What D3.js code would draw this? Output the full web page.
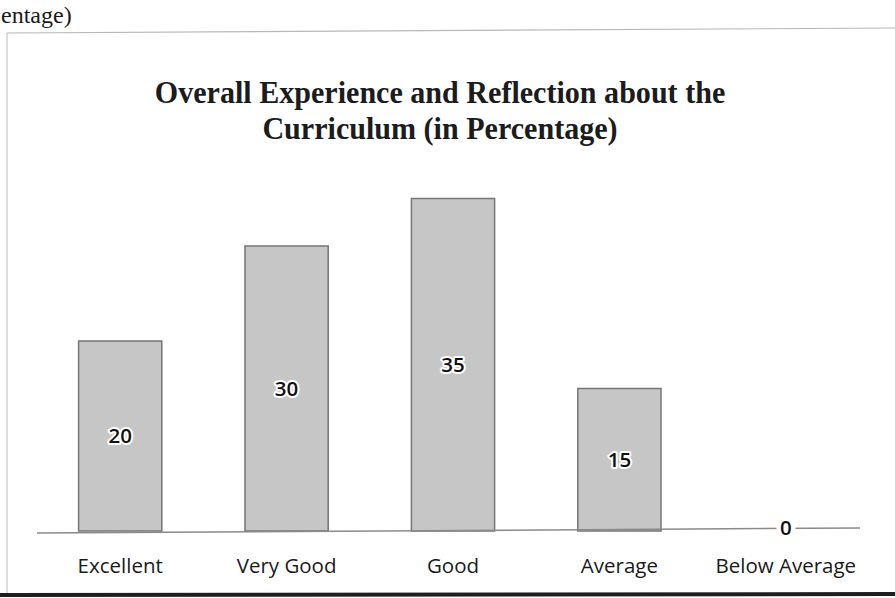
<!DOCTYPE html>
<html>
<head>
<meta charset="utf-8">
<script src="https://cdn.jsdelivr.net/npm/d3@7"></script>
<style>
  html, body { margin: 0; padding: 0; background: #fff; }
  svg { display: block; }
</style>
</head>
<body>
<div id="chart"></div>
<script>
// Chart values
const categories = ['Excellent', 'Very Good', 'Good', 'Average', 'Below Average'];
const values = [20, 30, 35, 15, 0];
const titleLines = ['Overall Experience and Reflection about the', 'Curriculum (in Percentage)'];

const W = 895, H = 598;
const BASE_Y = 531;
const PX_PER_UNIT = 9.5;
const TITLE_CX = 440;

const svg = d3.select('#chart').append('svg')
  .attr('width', W)
  .attr('height', H);

// leftover caption from the page above the chart
svg.append('text')
  .attr('x', 1).attr('y', 23)
  .attr('font-family', '"Liberation Serif", "DejaVu Serif", serif')
  .attr('font-size', 24)
  .attr('fill', '#1a1a1a')
  .text('entage)');

// chart frame
svg.append('line')
  .attr('x1', 7).attr('x2', W).attr('y1', 33).attr('y2', 28)
  .attr('stroke', '#b8b8b8').attr('stroke-width', 1.2);
svg.append('line')
  .attr('x1', 7).attr('x2', 7).attr('y1', 33).attr('y2', 594)
  .attr('stroke', '#c4c4c4').attr('stroke-width', 1.2);
svg.append('line')
  .attr('x1', 0).attr('x2', W).attr('y1', 595).attr('y2', 594)
  .attr('stroke', '#1e1e1e').attr('stroke-width', 4);

// title (tall, slightly condensed serif)
svg.append('g')
  .attr('transform', `translate(${TITLE_CX},0) scale(0.94,1)`)
  .append('text')
  .attr('x', 0).attr('y', 103)
  .attr('text-anchor', 'middle')
  .attr('font-family', '"Liberation Serif", "DejaVu Serif", serif')
  .attr('font-weight', 'bold')
  .attr('font-size', 32)
  .attr('fill', '#1c1c1c')
  .selectAll('tspan')
  .data(titleLines)
  .join('tspan')
  .attr('x', 0)
  .attr('dy', (d, i) => i === 0 ? 0 : 36)
  .text(d => d);

const x = d3.scaleBand()
  .domain(categories)
  .range([37, 869])
  .paddingInner(0.5)
  .paddingOuter(0.25);

const y = d3.scaleLinear()
  .domain([0, 35])
  .range([BASE_Y, BASE_Y - 35 * PX_PER_UNIT]);

const g = svg.append('g');

// bars
g.selectAll('.bar')
  .data(values)
  .join('rect')
  .attr('class', 'bar')
  .attr('x', (d, i) => x(categories[i]))
  .attr('width', x.bandwidth())
  .attr('y', d => y(d))
  .attr('height', d => y(0) - y(d))
  .attr('fill', '#c6c6c6')
  .attr('stroke', '#767676')
  .attr('stroke-width', 1.5);

// baseline axis
g.append('line')
  .attr('x1', 37).attr('x2', 860)
  .attr('y1', y(0) + 2).attr('y2', y(0) - 3)
  .attr('stroke', '#8a8a8a').attr('stroke-width', 1.5);

// value labels
g.selectAll('.val')
  .data(values)
  .join('text')
  .attr('class', 'val')
  .attr('x', (d, i) => x(categories[i]) + x.bandwidth() / 2)
  .attr('y', d => d === 0 ? y(0) - 3 : (y(d) + y(0)) / 2)
  .attr('dy', '0.35em')
  .attr('text-anchor', 'middle')
  .attr('font-family', '"Open Sans", "Noto Sans", sans-serif')
  .attr('font-weight', 600)
  .attr('font-size', 20.5)
  .attr('fill', '#111')
  .attr('stroke', '#fff')
  .attr('stroke-width', d => d === 0 ? 9 : 4)
  .attr('stroke-linejoin', 'round')
  .attr('paint-order', 'stroke')
  .text(d => d);

// category labels
g.selectAll('.cat')
  .data(categories)
  .join('text')
  .attr('class', 'cat')
  .attr('x', d => x(d) + x.bandwidth() / 2)
  .attr('y', 573)
  .attr('text-anchor', 'middle')
  .attr('font-family', '"Open Sans", "Noto Sans", sans-serif')
  .attr('font-size', 20.5)
  .attr('fill', '#1a1a1a')
  .text(d => d);
</script>
</body>
</html>
